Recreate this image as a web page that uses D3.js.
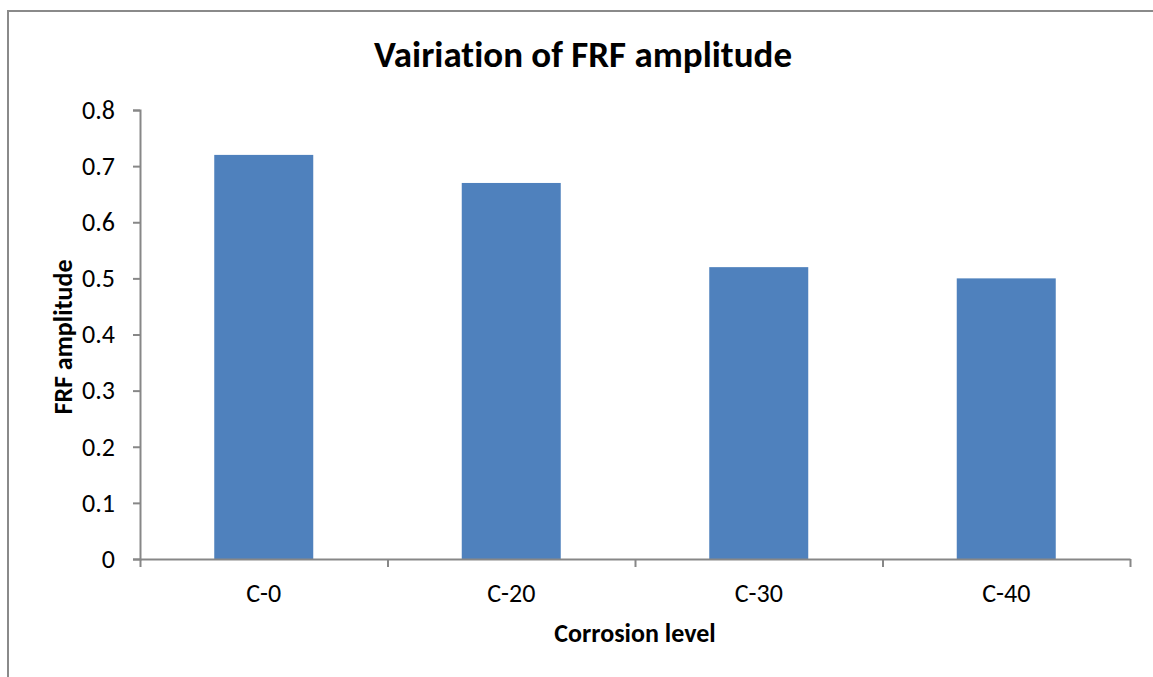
<!DOCTYPE html>
<html>
<head>
<meta charset="utf-8">
<script src="https://cdn.jsdelivr.net/npm/d3@7"></script>
<style>
  html, body { margin: 0; padding: 0; background: #fff; }
  svg { display: block; }
  text {
    font-family: Carlito, Calibri, Lato, "Open Sans", sans-serif;
    fill: #000;
    font-variant-ligatures: none;
    font-feature-settings: "liga" 0, "clig" 0, "dlig" 0;
  }
</style>
</head>
<body>
<svg id="chart" width="1153" height="677"></svg>
<script>
// Chart data
const categories = ["C-0", "C-20", "C-30", "C-40"];
const amplitudes = [0.72, 0.67, 0.52, 0.50];
const yTickValues = [0, 0.1, 0.2, 0.3, 0.4, 0.5, 0.6, 0.7, 0.8];
const titleText = "Vairiation of FRF amplitude";
const xTitleText = "Corrosion level";
const yTitleText = "FRF amplitude";

const svg = d3.select("#chart");
const axisColor = "#878787";

// Plot area
const plot = { left: 140, right: 1130, top: 110, bottom: 559 };

// Outer chart frame
svg.append("rect")
  .attr("x", 8).attr("y", 11)
  .attr("width", 1170).attr("height", 720)
  .attr("fill", "#fff")
  .attr("stroke", "#8a8a8a")
  .attr("stroke-width", 2);

const x = d3.scaleBand()
  .domain(categories)
  .range([plot.left, plot.right])
  .paddingInner(0.6)
  .paddingOuter(0.3);

const y = d3.scaleLinear()
  .domain([0, 0.8])
  .range([plot.bottom, plot.top]);

// Bars
svg.append("g")
  .selectAll("rect")
  .data(categories)
  .join("rect")
  .attr("x", d => x(d))
  .attr("width", x.bandwidth())
  .attr("y", (d, i) => y(amplitudes[i]))
  .attr("height", (d, i) => y(0) - y(amplitudes[i]))
  .attr("fill", "#4f81bd");

// Y axis
const yAxis = svg.append("g")
  .attr("transform", `translate(${plot.left},0)`)
  .call(d3.axisLeft(y).tickValues(yTickValues).tickFormat(d3.format("")).tickSize(7).tickPadding(18));
yAxis.selectAll("text").attr("font-size", 26);
yAxis.attr("font-family", null);

// X axis: category separators as ticks, labels centred in bands
const sep = d3.scaleLinear().domain([0, categories.length]).range([plot.left, plot.right]);
const xAxis = svg.append("g")
  .attr("transform", `translate(0,${plot.bottom})`)
  .call(d3.axisBottom(sep).tickValues(d3.range(categories.length + 1)).tickFormat("").tickSize(8).tickSizeOuter(0));

const xLabels = svg.append("g")
  .attr("transform", `translate(0,${plot.bottom})`)
  .call(d3.axisBottom(x).tickSize(0).tickPadding(25));
xLabels.select(".domain").remove();
xLabels.selectAll("text").attr("font-size", 26);
xLabels.attr("font-family", null);
xAxis.attr("font-family", null);

[yAxis, xAxis].forEach(g => {
  g.selectAll(".domain, line").attr("stroke", axisColor).attr("stroke-width", 2);
});

// Titles
svg.append("text")
  .attr("x", 583).attr("y", 67)
  .attr("text-anchor", "middle")
  .attr("font-size", 37).attr("font-weight", "bold")
  .text(titleText);

svg.append("text")
  .attr("x", 635).attr("y", 642)
  .attr("text-anchor", "middle")
  .attr("font-size", 26).attr("font-weight", "bold")
  .text(xTitleText);

svg.append("text")
  .attr("transform", `translate(72,337) rotate(-90)`)
  .attr("text-anchor", "middle")
  .attr("font-size", 26).attr("font-weight", "bold")
  .text(yTitleText);
</script>
</body>
</html>
